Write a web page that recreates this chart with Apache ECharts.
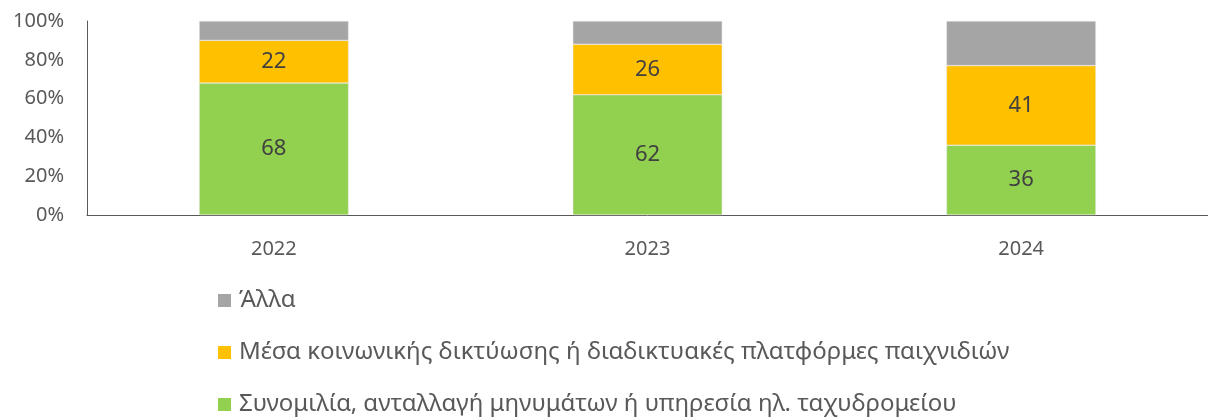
<!DOCTYPE html>
<html>
<head>
<meta charset="utf-8">
<script src="https://cdn.jsdelivr.net/npm/echarts@6/dist/echarts.min.js"></script>
<style>
  html, body { margin: 0; padding: 0; background: #fff; }
  #chart { width: 1208px; height: 417px; }
</style>
</head>
<body>
<div id="chart"></div>
<script>
const years = ["2022", "2023", "2024"];
const chatValues = [68, 62, 36];
const socialValues = [22, 26, 41];
const otherValues = [10, 12, 23];
const yTicks = ["0%", "20%", "40%", "60%", "80%", "100%"];

const names = [
  "Συνομιλία, ανταλλαγή μηνυμάτων ή υπηρεσία ηλ. ταχυδρομείου",
  "Μέσα κοινωνικής δικτύωσης ή διαδικτυακές πλατφόρμες παιχνιδιών",
  "Άλλα",
];
const colors = ["#92D050", "#FFC000", "#A5A5A5"];
const seriesData = [chatValues, socialValues, otherValues];
const font = "'Noto Sans', sans-serif";

const chart = echarts.init(document.getElementById("chart"));

chart.setOption({
  animation: false,
  textStyle: { fontFamily: font },
  grid: { left: 87, right: 0, top: 21, bottom: 202 },
  legend: {
    orient: "vertical",
    left: 218,
    top: 288,
    height: 140,
    padding: 0,
    itemGap: 27,
    itemWidth: 13,
    itemHeight: 13,
    icon: "rect",
    itemStyle: { borderWidth: 0 },
    data: [names[2], names[1], names[0]],
    textStyle: { fontSize: 24, lineHeight: 25, color: "#595959", fontFamily: font, padding: [0, 0, 0, 3] },
  },
  xAxis: {
    type: "category",
    data: years,
    axisLine: { lineStyle: { color: "#595959", width: 1 } },
    axisTick: { show: false },
    axisLabel: { fontSize: 20, color: "#595959", margin: 24 },
  },
  yAxis: {
    type: "value",
    min: 0,
    max: 100,
    interval: 20,
    axisLine: { show: true, lineStyle: { color: "#595959", width: 1 } },
    axisTick: { show: false },
    splitLine: { show: false },
    axisLabel: {
      fontSize: 20,
      color: "#595959",
      margin: 23,
      formatter: (v) => yTicks[Math.round(v / 20)],
    },
  },
  series: names.map((name, i) => ({
    name,
    type: "bar",
    stack: "total",
    barWidth: "40%",
    data: seriesData[i],
    itemStyle: { color: colors[i], borderColor: "#e8e8e8", borderWidth: 0.5 },
    label: {
      show: i < 2,
      position: "inside",
      fontSize: 22,
      color: "#404040",
      fontFamily: font,
    },
  })),
});
</script>
</body>
</html>
